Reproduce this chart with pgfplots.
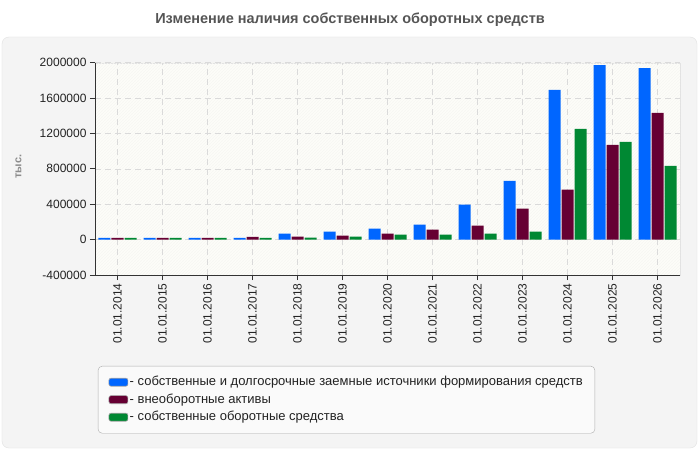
\documentclass[border=0pt]{standalone}
\usepackage{pgfplots}
\pgfplotsset{compat=1.18}
\usepackage{fontspec}
\setmainfont{Liberation Sans}
\usetikzlibrary{patterns}

\definecolor{blueC}{HTML}{0066FF}
\definecolor{plumC}{HTML}{660033}
\definecolor{greenC}{HTML}{008833}
\definecolor{panelC}{HTML}{F4F4F4}
\definecolor{panelLine}{HTML}{E2E2E2}
\definecolor{plotBg}{HTML}{FDFDF9}
\definecolor{hatchC}{HTML}{F6F6F2}
\definecolor{gridC}{HTML}{DADADA}
\definecolor{axisC}{HTML}{333333}
\definecolor{titleC}{HTML}{555555}
\definecolor{labelC}{HTML}{222222}

\begin{document}
\begin{tikzpicture}
  % page, rounded panel and title, measured from the lower left corner of the plot box
  \fill[white] (-95pt,-175pt) rectangle (605pt,275pt);
  \draw[panelLine, fill=panelC, rounded corners=7pt] (-93pt,-173pt) rectangle (602pt,238pt);
  \node[font=\fontsize{14.5}{17}\selectfont\bfseries, text=titleC] at (255pt,255pt)
    {Изменение наличия собственных оборотных средств};

  \begin{axis}[
    anchor=south west,
    scale only axis, width=585pt, height=212.3pt,
    xmin=-0.5, xmax=12.5,
    ymin=-400000, ymax=2000000,
    scaled y ticks=false,
    ybar=1pt, bar width=12pt,
    axis x line*=bottom, axis y line*=left,
    axis line style={axisC, line width=0.8pt},
    axis background/.style={fill=plotBg, draw=panelLine,
      postaction={pattern=north east lines, pattern color=hatchC}},
    tick align=outside, major tick length=5pt,
    tick style={axisC, line width=0.8pt},
    xtick={0,...,12},
    xticklabels={01.01.2014,01.01.2015,01.01.2016,01.01.2017,01.01.2018,01.01.2019,01.01.2020,01.01.2021,01.01.2022,01.01.2023,01.01.2024,01.01.2025,01.01.2026},
    xticklabel style={rotate=90, anchor=east, font=\fontsize{12}{14}\selectfont, text=labelC},
    ytick={-400000,0,400000,800000,1200000,1600000,2000000},
    yticklabels={-400000,0,400000,800000,1200000,1600000,2000000},
    yticklabel style={font=\fontsize{12}{14}\selectfont, text=labelC},
    /pgf/number format/assume math mode=true,
    grid=major,
    major grid style={gridC, dash pattern=on 6pt off 4pt, line width=0.7pt},
    ylabel={тыс.},
    ylabel style={at={(axis description cs:-0.131,0.51)}, anchor=center,
      font=\fontsize{11}{13}\selectfont\bfseries, text=black!45},
    legend image code/.code={%
      \path[#1, draw=black!35, line width=0.6pt, rounded corners=2pt]
        (0pt,-4pt) rectangle (19pt,4pt);},
    legend style={at={(axis description cs:0.005,-0.4286)}, anchor=north west,
      fill=panelC!50!white, draw=black!32, rounded corners=4pt,
      font=\fontsize{13}{15}\selectfont, text=labelC,
      inner xsep=10.5pt, inner ysep=9.5pt, row sep=4.5pt,
      nodes={inner xsep=1.5pt, inner ysep=0pt, text height=10pt, text depth=3pt}},
    legend cell align=left,
  ]
    \addplot[fill=blueC, draw=none] coordinates {
      (0,20000) (1,20000) (2,20000) (3,20000) (4,68000) (5,90000) (6,124000)
      (7,169000) (8,395000) (9,665000) (10,1692000) (11,1974000) (12,1940000)};
    \addplot[fill=plumC, draw=none] coordinates {
      (0,20000) (1,20000) (2,20000) (3,30000) (4,34000) (5,45000) (6,68000)
      (7,113000) (8,158000) (9,350000) (10,564000) (11,1072000) (12,1433000)};
    \addplot[fill=greenC, draw=none] coordinates {
      (0,20000) (1,20000) (2,20000) (3,20000) (4,23000) (5,34000) (6,56000)
      (7,56000) (8,68000) (9,90000) (10,1252000) (11,1105000) (12,835000)};
    \legend{- собственные и долгосрочные заемные источники формирования средств,
            - внеоборотные активы,
            - собственные оборотные средства}
  \end{axis}
\end{tikzpicture}
\end{document}
